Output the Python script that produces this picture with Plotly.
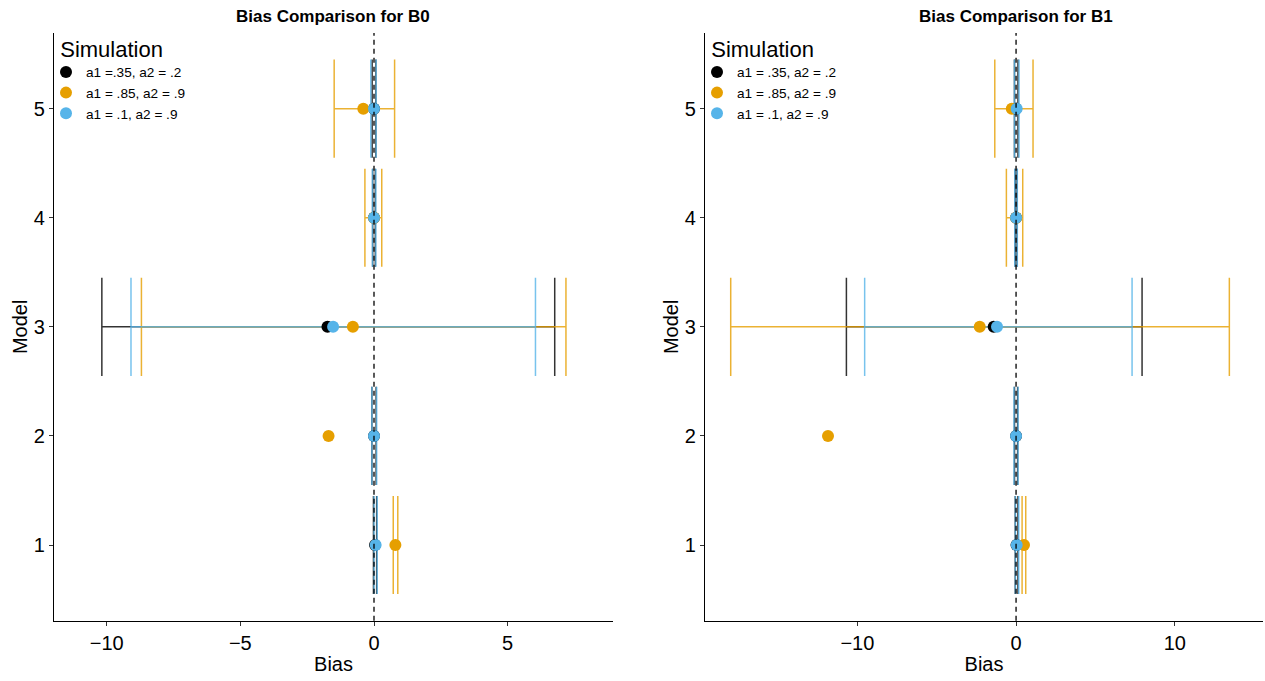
import plotly.graph_objects as go

# Simulation scenarios (order controls drawing order)
sims = ["a1 =.35, a2 = .2", "a1 = .85, a2 = .9", "a1 = .1, a2 = .9"]
sims_b1 = ["a1 = .35, a2 = .2", "a1 = .85, a2 = .9", "a1 = .1, a2 = .9"]
colors = ["#000000", "#E69F00", "#56B4E9"]
bar_colors = ["rgba(0,0,0,0.8)", "rgba(230,159,0,0.8)", "rgba(86,180,233,0.8)"]

models = [1, 2, 3, 4, 5]

# Bias estimates and interval bounds for B0, one list per simulation
b0_mean = [
    [0.04, 0.00, -1.74, 0.00, 0.00],
    [0.80, -1.70, -0.79, 0.00, -0.40],
    [0.06, 0.00, -1.53, 0.00, 0.00],
]
b0_low = [
    [-0.02, -0.08, -10.18, -0.05, -0.07],
    [0.72, None, -8.70, -0.34, -1.49],
    [0.00, -0.08, -9.09, -0.06, -0.12],
]
b0_high = [
    [0.10, 0.08, 6.76, 0.05, 0.07],
    [0.89, None, 7.18, 0.29, 0.77],
    [0.12, 0.10, 6.04, 0.07, 0.08],
]

# Bias estimates and interval bounds for B1
b1_mean = [
    [0.03, 0.00, -1.41, 0.00, 0.00],
    [0.50, -11.85, -2.29, 0.00, -0.27],
    [0.04, 0.00, -1.20, 0.00, 0.04],
]
b1_low = [
    [-0.05, -0.10, -10.69, -0.06, -0.10],
    [0.38, None, -17.98, -0.61, -1.34],
    [-0.04, -0.13, -9.54, -0.08, -0.10],
]
b1_high = [
    [0.12, 0.10, 7.94, 0.06, 0.12],
    [0.61, None, 13.44, 0.42, 1.07],
    [0.17, 0.13, 7.31, 0.08, 0.19],
]

W, H = 1265, 681
FONT = "Liberation Sans, Arial, Helvetica, sans-serif"

x1_dom = [54 / W, 613 / W]
x2_dom = [705 / W, 1263 / W]
y_dom = [1 - 620.7 / H, 1 - 33 / H]
x1_range = [-11.97, 8.94]
x2_range = [-19.6, 15.56]
y_range = [0.306, 5.694]

# error-bar cap half-height expressed in model units, converted to px
cap_half_units = 0.45
plot_h_px = (y_dom[1] - y_dom[0]) * H
cap_px = cap_half_units * plot_h_px / (y_range[1] - y_range[0])

fig = go.Figure()


def add_panel(means, lows, highs, names, xa, ya, legend_name):
    # interval bars first so every point sits on top of them
    for k in range(3):
        keep = [i for i in range(len(models)) if lows[k][i] is not None]
        xs = [means[k][i] for i in keep]
        ys = [models[i] for i in keep]
        plus = [highs[k][i] - means[k][i] for i in keep]
        minus = [means[k][i] - lows[k][i] for i in keep]
        fig.add_trace(go.Scatter(
            x=xs, y=ys, mode="markers", xaxis=xa, yaxis=ya,
            marker=dict(size=12, color=colors[k], opacity=0),
            error_x=dict(type="data", symmetric=False, array=plus, arrayminus=minus,
                         color=bar_colors[k], thickness=1.5, width=cap_px),
            showlegend=False, hoverinfo="skip",
        ))
    for k in range(3):
        fig.add_trace(go.Scatter(
            x=means[k], y=models, mode="markers", xaxis=xa, yaxis=ya,
            marker=dict(size=12, color=colors[k], line=dict(width=0)),
            name=names[k], legend=legend_name,
        ))


add_panel(b0_mean, b0_low, b0_high, sims, "x", "y", "legend")
add_panel(b1_mean, b1_low, b1_high, sims_b1, "x2", "y2", "legend2")

axis_common = dict(
    showline=True, linecolor="black", linewidth=1.2, ticks="outside", ticklen=4,
    tickcolor="#333333", tickwidth=1.1, showgrid=False, zeroline=False,
    tickfont=dict(size=20, color="black", family=FONT), automargin=False,
)

legend_common = dict(
    yanchor="top", xanchor="left", bgcolor="rgba(0,0,0,0)", font=dict(size=13.6),
    title=dict(text="\u00a0\u00a0Simulation", font=dict(size=22)),
    tracegroupgap=0, itemclick=False,
)

fig.update_layout(
    width=W, height=H,
    margin=dict(l=0, r=0, t=0, b=0),
    paper_bgcolor="white", plot_bgcolor="white",
    font=dict(family=FONT, color="black"),
    xaxis=dict(domain=x1_dom, range=x1_range, tickvals=[-10, -5, 0, 5],
               ticktext=["\u221210", "\u22125", "0", "5"],
               title=dict(text="Bias", font=dict(size=20), standoff=4), anchor="y", **axis_common),
    yaxis=dict(domain=y_dom, range=y_range, tickvals=models,
               title=dict(text="Model", font=dict(size=20), standoff=0), anchor="x", **axis_common),
    xaxis2=dict(domain=x2_dom, range=x2_range, tickvals=[-10, 0, 10],
                ticktext=["\u221210", "0", "10"],
                title=dict(text="Bias", font=dict(size=20), standoff=4), anchor="y2", **axis_common),
    yaxis2=dict(domain=y_dom, range=y_range, tickvals=models,
                title=dict(text="Model", font=dict(size=20), standoff=0), anchor="x2", **axis_common),
    legend=dict(x=46 / W, y=1 - 28 / H, **legend_common),
    legend2=dict(x=697 / W, y=1 - 28 / H, **legend_common),
    annotations=[
        dict(text="<b>Bias Comparison for B0</b>", x=(x1_dom[0] + x1_dom[1]) / 2, y=1 - 17 / H,
             xref="paper", yref="paper", xanchor="center", yanchor="middle",
             showarrow=False, font=dict(size=17)),
        dict(text="<b>Bias Comparison for B1</b>", x=1016 / W, y=1 - 17 / H,
             xref="paper", yref="paper", xanchor="center", yanchor="middle",
             showarrow=False, font=dict(size=17)),
    ],
    shapes=[
        dict(type="line", xref="x", yref="y domain", x0=0, x1=0, y0=0, y1=1,
             line=dict(color="black", width=1.3, dash="5px,4px"), layer="above"),
        dict(type="line", xref="x2", yref="y2 domain", x0=0, x1=0, y0=0, y1=1,
             line=dict(color="black", width=1.3, dash="5px,4px"), layer="above"),
    ],
)

fig.write_html("out.html")
